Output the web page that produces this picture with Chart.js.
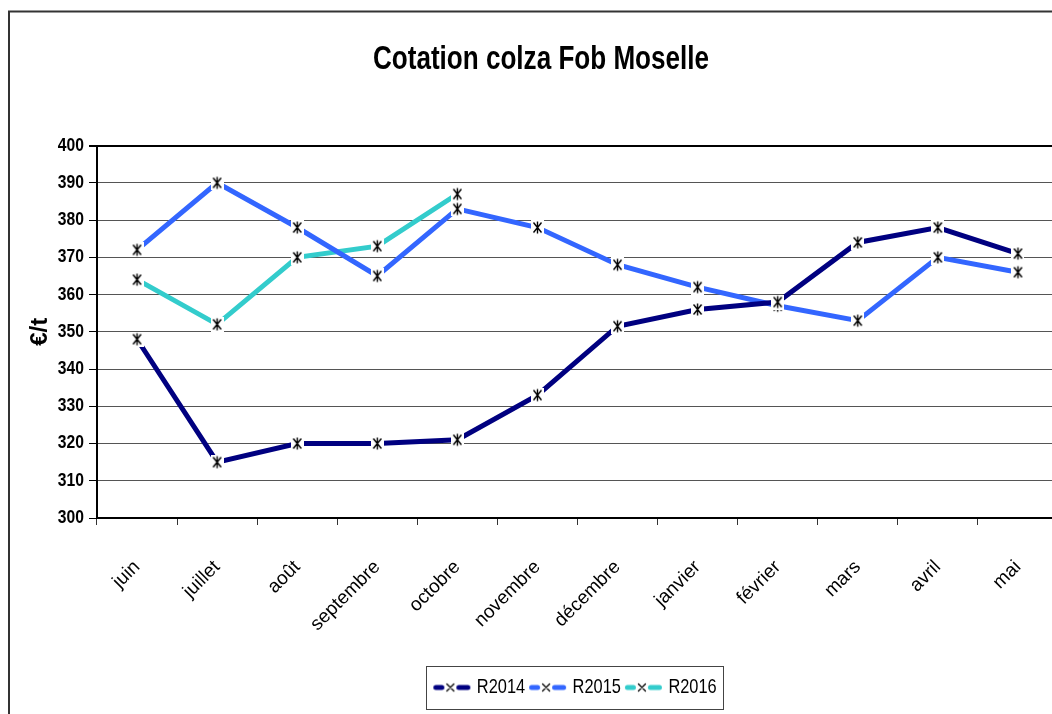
<!DOCTYPE html>
<html><head><meta charset="utf-8">
<script src="https://cdn.jsdelivr.net/npm/chart.js@4.4.0/dist/chart.umd.min.js"></script>
<style>html,body{margin:0;padding:0;background:#fff;overflow:hidden;width:1052px;height:714px}
canvas{display:block}</style></head>
<body><canvas id="c" width="1082" height="714"></canvas>
<script>
const categories = ['juin','juillet','août','septembre','octobre','novembre','décembre','janvier','février','mars','avril','mai'];
const r2014 = [348,315,320,320,321,333,351.5,356,358,374,378,371];
const r2015 = [372,390,378,365,383,378,368,362,357,353,370,366];
const r2016 = [364,352,370,373,387,null,null,null,null,null,null,null];
const seriesNames = ['R2014','R2015','R2016'];
const seriesColors = ['#000080','#3366FF','#33CCCC'];
const yMin = 300, yMax = 400, yStep = 10;
const titleText = 'Cotation colza Fob Moselle';
const yTitle = '€/t';

const FONT = "'Liberation Sans', Arial, sans-serif";
Chart.defaults.font.family = FONT;
Chart.defaults.color = '#000';

// narrow rendering of some text sizes (the reference uses a condensed face)
const cnv = document.getElementById('c');
const ctx0 = cnv.getContext('2d');
const condense = {33:0.79, 18:0.87, 21:0.78};
function factor(g){ const m=/(\d+(?:\.\d+)?)px/.exec(g.font); return m ? (condense[Math.round(+m[1])]||1) : 1; }
const ofill = ctx0.fillText.bind(ctx0), omeasure = ctx0.measureText.bind(ctx0);
ctx0.fillText = function(t,x,y,mw){
  const f=factor(ctx0);
  if(f===1){ return mw===undefined ? ofill(t,x,y) : ofill(t,x,y,mw); }
  ctx0.save(); ctx0.translate(x,y); ctx0.scale(f,1);
  if(mw===undefined) ofill(t,0,0); else ofill(t,0,0,mw/f);
  ctx0.restore();
};
ctx0.measureText = function(t){
  const m=omeasure(t); const f=factor(ctx0);
  if(f===1) return m;
  return {width:m.width*f, actualBoundingBoxAscent:m.actualBoundingBoxAscent, actualBoundingBoxDescent:m.actualBoundingBoxDescent,
    actualBoundingBoxLeft:m.actualBoundingBoxLeft*f, actualBoundingBoxRight:m.actualBoundingBoxRight*f,
    fontBoundingBoxAscent:m.fontBoundingBoxAscent, fontBoundingBoxDescent:m.fontBoundingBoxDescent};
};

function makeMarker(){
  const c=document.createElement('canvas'); c.width=13; c.height=15;
  const g=c.getContext('2d');
  g.fillStyle='#fff'; g.fillRect(0,0,13,15);
  g.strokeStyle='#000'; g.lineWidth=1.4;
  g.beginPath();
  g.moveTo(2.5,2.5); g.lineTo(10.5,12.5);
  g.moveTo(10.5,2.5); g.lineTo(2.5,12.5);
  g.moveTo(6.5,1.5); g.lineTo(6.5,13.5);
  g.stroke();
  return c;
}
function makeLegendImg(color){
  const c=document.createElement('canvas'); c.width=40; c.height=12;
  const g=c.getContext('2d');
  g.strokeStyle=color; g.lineWidth=5; g.lineCap='round';
  g.beginPath(); g.moveTo(3.5,6); g.lineTo(9.5,6); g.moveTo(26.5,6); g.lineTo(35.5,6); g.stroke();
  g.strokeStyle='#000'; g.lineWidth=1.3;
  g.beginPath(); g.moveTo(14.5,2.5); g.lineTo(21.5,9.5); g.moveTo(21.5,2.5); g.lineTo(14.5,9.5); g.stroke();
  return c;
}
const marker = makeMarker();
const legendImgs = seriesColors.map(makeLegendImg);

const frame = {
  id:'frame',
  beforeDraw(chart){
    const ctx=chart.ctx; ctx.save();
    ctx.strokeStyle='#333'; ctx.lineWidth=2;
    ctx.strokeRect(9,11.5,3000,3000);
    ctx.restore();
  },
  afterDraw(chart){
    const lg=chart.legend; const hb=lg.legendHitBoxes; if(!hb||!hb.length) return;
    const l=hb[0].left-12, last=hb[hb.length-1], r=last.left+last.width+7;
    const cy=hb[0].top+hb[0].height/2;
    const ctx=chart.ctx; ctx.save();
    ctx.strokeStyle='#444'; ctx.lineWidth=1;
    ctx.strokeRect(Math.round(l)+0.5, Math.round(cy-21.5)+0.5, Math.round(r-l), 43);
    ctx.restore();
  }
};

const seriesData=[r2014,r2015,r2016];
new Chart(cnv,{
  type:'line',
  data:{labels:categories, datasets: seriesNames.map((n,i)=>({
    label:n, data:seriesData[i], borderColor:seriesColors[i], backgroundColor:seriesColors[i],
    borderWidth:5, tension:0, fill:false, pointStyle:marker, pointRadius:6, pointHoverRadius:6, clip:false
  }))},
  options:{
    responsive:false, animation:false, devicePixelRatio:1,
    layout:{padding:{left:0,right:0,top:0,bottom:6}},
    plugins:{
      title:{display:true,text:titleText,color:'#000',font:{size:33,weight:'bold'},padding:{top:40,bottom:66}},
      legend:{position:'bottom', fullSize:false, labels:{
        usePointStyle:true, pointStyleWidth:28, padding:9, color:'#000', font:{size:21},
        generateLabels(chart){ return chart.data.datasets.map((ds,i)=>({text:ds.label, pointStyle:legendImgs[i], fillStyle:ds.borderColor, strokeStyle:ds.borderColor, lineWidth:0, hidden:false, datasetIndex:i, fontColor:'#000'})); }
      }},
      tooltip:{enabled:false}
    },
    scales:{
      x:{type:'category', offset:true,
        grid:{display:true, drawOnChartArea:false, offset:true, tickLength:7, tickColor:'#333', color:'#333'},
        border:{color:'#000', width:2},
        ticks:{autoSkip:false, minRotation:45, maxRotation:45, padding:31, color:'#000', font:{size:19}},
        afterFit(s){ s.height=150; }
      },
      y:{min:yMin, max:yMax,
        ticks:{stepSize:yStep, padding:5, color:'#000', font:{size:18, weight:'bold'}},
        grid:{color:c=> (c.tick && c.tick.value===yMax)?'#000':'#555', lineWidth:c=> (c.tick && c.tick.value===yMax)?2:1, tickLength:8, tickColor:'#000'},
        border:{color:'#000', width:2},
        title:{display:true, text:yTitle, color:'#000', font:{size:24, weight:'bold'}, padding:{top:26,bottom:0}},
        afterFit(s){ s.width=97; }
      },
      spacer:{position:'right', display:true, ticks:{display:false}, grid:{display:false}, border:{display:false},
        afterFit(s){ s.width=24; }
      }
    }
  },
  plugins:[frame]
});
</script></body></html>
